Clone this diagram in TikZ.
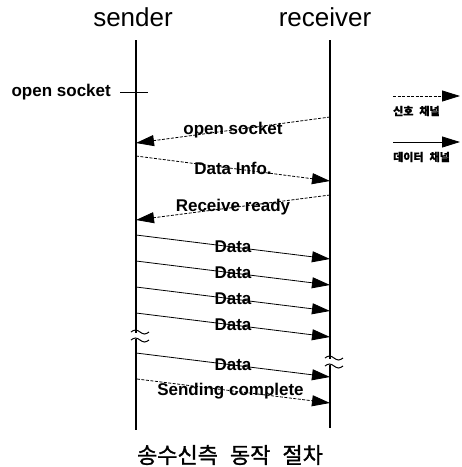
\documentclass[tikz,border=0pt]{standalone}
\usepackage{fontspec}
\setmainfont{Liberation Sans}
\newfontfamily\kr{Noto Sans CJK KR}[FakeBold=1.2]
\usetikzlibrary{arrows.meta}

\begin{document}
\begin{tikzpicture}[x=1pt, y=-1pt,
    msg/.style={-{Triangle[length=18pt,width=11pt]}, line width=0.8pt},
    sig/.style={msg, dash pattern=on 3pt off 1.5pt},
    lbl/.style={font=\bfseries\fontsize{17}{19}\selectfont, inner sep=0pt},
    life/.style={line width=1.6pt},
    brk/.style={line width=1pt},
    lgd/.style={font=\kr\bfseries\fontsize{11}{13}\selectfont, anchor=west, inner sep=0pt}]
    \useasboundingbox (0,0) rectangle (462,467);

    \node[font=\fontsize{26}{30}\selectfont] (snd) at (133,17) {sender};
    \node[font=\fontsize{26}{30}\selectfont] (rcv) at (325,17) {receiver};

    \coordinate (sTop) at (136,40);  \coordinate (sBrkA) at (136,333);
    \coordinate (sBrkB) at (136,339); \coordinate (sBot) at (136,430);
    \coordinate (rTop) at (330,40);  \coordinate (rBrkA) at (330,359);
    \coordinate (rBrkB) at (330,365); \coordinate (rBot) at (330,428);
    \draw[life] (sTop) -- (sBrkA);  \draw[life] (sBrkB) -- (sBot);
    \draw[life] (rTop) -- (rBrkA);  \draw[life] (rBrkB) -- (rBot);
    \foreach \x/\y in {131/332, 131/340, 325/358, 325/366}
      \draw[brk] (\x,\y) sin ++(4.5,-2) cos ++(4.5,2) sin ++(4.5,2) cos ++(4.5,-2);

    \node[lbl, anchor=east] (osLbl) at (111,92) {open socket};
    \coordinate (tickEnd) at (148,92);
    \draw[line width=1pt] ([xshift=9pt]osLbl.east) -- (tickEnd);

    \coordinate (os1) at (330,117);  \coordinate (os2) at (136,143);
    \draw[sig] (os1) -- node[lbl] {open socket} (os2);
    \coordinate (di1) at (136,156);  \coordinate (di2) at (330,181);
    \draw[sig] (di1) -- node[lbl] {Data Info.} (di2);
    \coordinate (rr1) at (330,195);  \coordinate (rr2) at (136,220);
    \draw[sig] (rr1) -- node[lbl] {Receive ready} (rr2);

    \foreach \y [count=\i] in {235,261,287,313,353} {
      \coordinate (d\i s) at (136,\y);
      \coordinate (d\i r) at (330,\y+24);
      \draw[msg] (d\i s) -- node[lbl] {Data} (d\i r);
    }
    \coordinate (sc1) at (137,379);  \coordinate (sc2) at (330,403);
    \draw[sig] (sc1) -- node[lbl, xshift=-3pt] {Sending complete} (sc2);

    \coordinate (lgA1) at (393,96);  \coordinate (lgA2) at (460,96);
    \draw[sig] (lgA1) -- (lgA2);
    \node[lgd] (lgSig) at (393,111) {신호\hspace{6pt}채널};
    \coordinate (lgB1) at (393,142); \coordinate (lgB2) at (460,142);
    \draw[msg] (lgB1) -- (lgB2);
    \node[lgd] (lgDat) at (393,157) {데이터\hspace{6pt}채널};

    \node[font=\kr\fontsize{22}{26}\selectfont] (cap) at (230,455) {송수신측\hspace{12pt}동작\hspace{12pt}절차};
\end{tikzpicture}
\end{document}
